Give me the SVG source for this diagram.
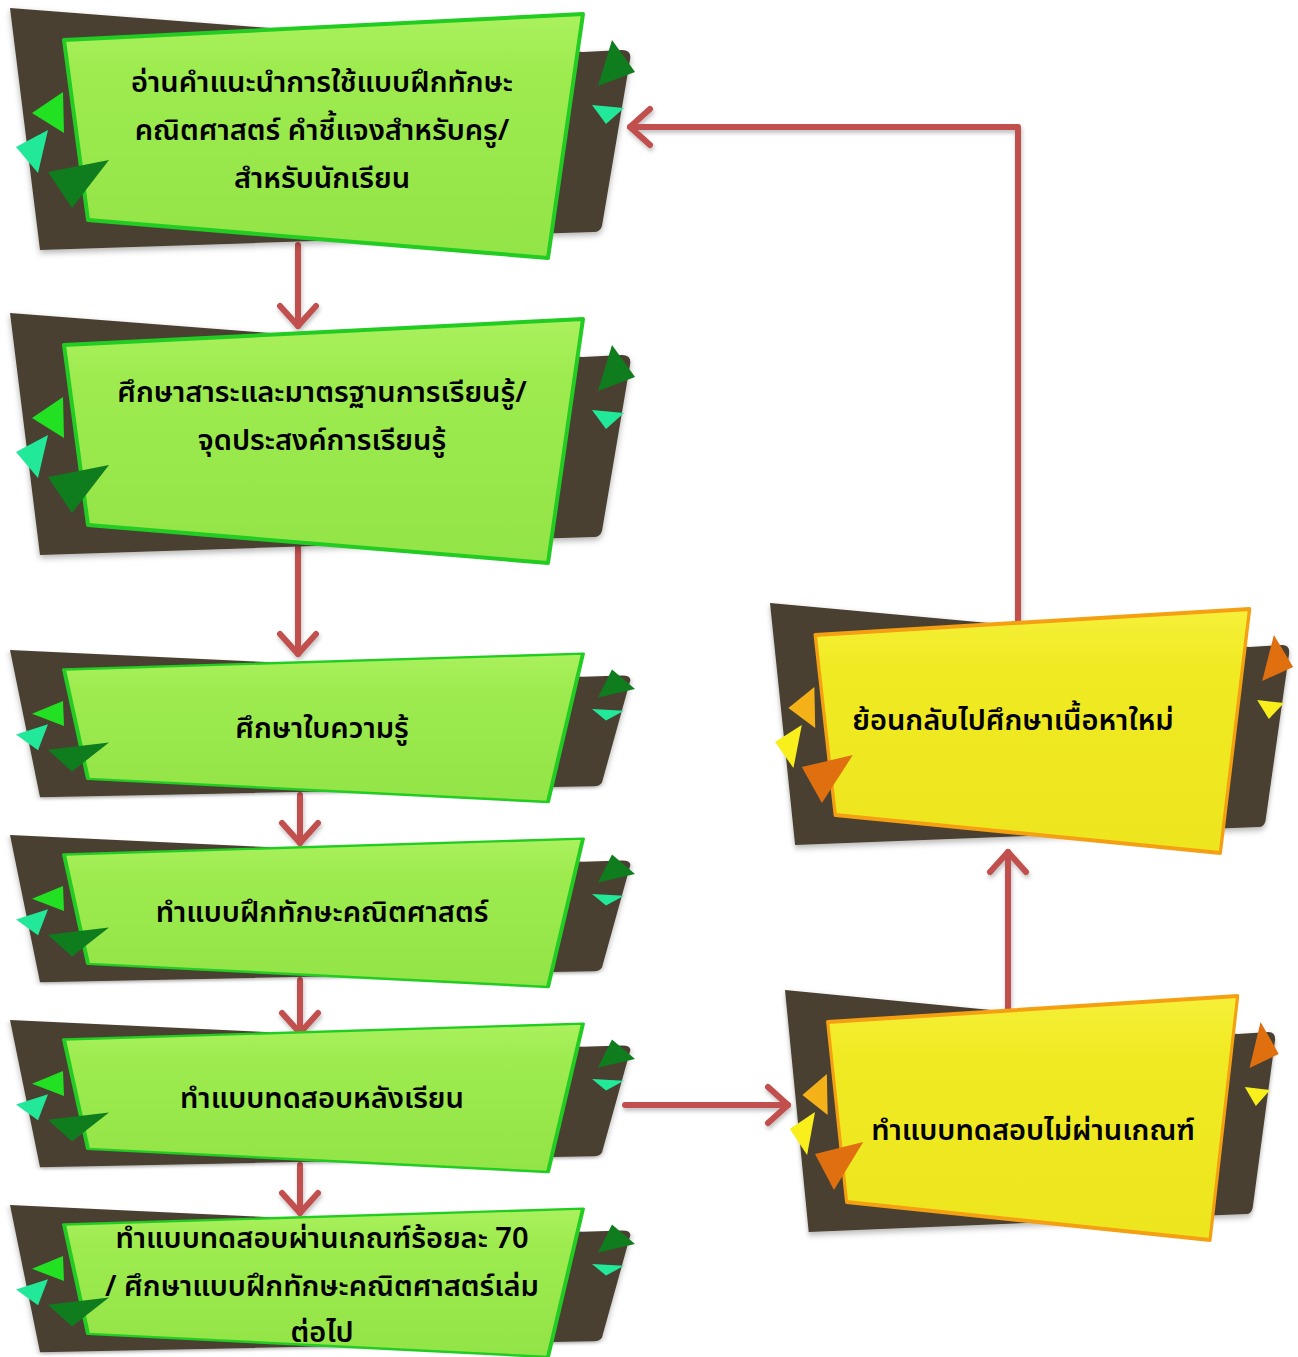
<svg xmlns="http://www.w3.org/2000/svg" xmlns:xlink="http://www.w3.org/1999/xlink" width="1298" height="1357" viewBox="0 0 1298 1357">
  <defs>
    <style>
      .back { fill: #4a4131; }
      .panel-g, .panel-y { stroke-width: 4; stroke-linejoin: round; vector-effect: non-scaling-stroke; }
      .panel-g { fill: url(#gFill); stroke: #22cc22; }
      .panel-y { fill: url(#yFill); stroke: #f5a012; }
      .g1 { fill: #22e022; } .g2 { fill: #22e89a; } .g3 { fill: #0f7d1e; }
      .y1 { fill: #f5b218; } .y2 { fill: #f8ef1c; } .y3 { fill: #e06f10; }
      text { font-family: "Noto Sans Thai", "Noto Sans", "DejaVu Sans", sans-serif; font-size: 29px; font-weight: 600; fill: #000; text-anchor: middle; }
      .link { fill: none; stroke: #c0504d; stroke-width: 6; stroke-linecap: round; stroke-linejoin: round; }
    </style>
    <linearGradient id="gFill" x1="0" y1="0" x2="0" y2="1">
      <stop offset="0" stop-color="#abf15e"/>
      <stop offset="0.25" stop-color="#9deb4f"/>
      <stop offset="1" stop-color="#93e447"/>
    </linearGradient>
    <linearGradient id="yFill" x1="0" y1="0" x2="0" y2="1">
      <stop offset="0" stop-color="#f6f03a"/>
      <stop offset="0.25" stop-color="#f0ea22"/>
      <stop offset="1" stop-color="#ede61e"/>
    </linearGradient>
    <filter id="soft" x="-10%" y="-10%" width="120%" height="125%">
      <feDropShadow dx="0" dy="3" stdDeviation="3" flood-color="#000" flood-opacity="0.3"/>
    </filter>
    <filter id="lineShadow" x="-20%" y="-20%" width="140%" height="140%">
      <feDropShadow dx="1" dy="3" stdDeviation="2" flood-color="#000" flood-opacity="0.25"/>
    </filter>
    <marker id="chev" markerUnits="userSpaceOnUse" viewBox="-26 -22 30 44" refX="0" refY="0" markerWidth="30" markerHeight="44" orient="auto" overflow="visible">
      <path d="M-20,-18 L0,0 L-20,18" fill="none" stroke="#c0504d" stroke-width="6" stroke-linecap="round" stroke-linejoin="round"/>
    </marker>
    <!-- dark backing plate shared by every banner, 625 x 250 in local units -->
    <path id="plate" class="back" filter="url(#soft)" d="M0,0 L573,44 L612,42 Q622,42 620,52 L592,218 Q590,224 584,224 L30,242 Z"/>
    <path id="panel" d="M54,32 L573,6 L538,250 L78,212 Z"/>
    <!-- green banner -->
    <g id="frameG">
      <use xlink:href="#plate"/>
      <polygon class="g3" points="602,32 625,64 588,78"/>
      <polygon class="g2" points="582,97 614,100 596,116"/>
      <use xlink:href="#panel" class="panel-g"/>
      <polygon class="g1" points="22,105 53,84 54,125"/>
      <polygon class="g2" points="6,139 38,122 28,165"/>
      <polygon class="g3" points="38,164 99,152 62,200"/>
    </g>
    <!-- yellow banner -->
    <g id="frameY">
      <use xlink:href="#plate"/>
      <polygon class="y3" points="602,32 625,64 588,78"/>
      <polygon class="y2" points="582,97 614,100 596,116"/>
      <use xlink:href="#panel" class="panel-y"/>
      <polygon class="y1" points="22,105 53,84 54,125"/>
      <polygon class="y2" points="6,139 38,122 28,165"/>
      <polygon class="y3" points="38,164 99,152 62,200"/>
    </g>
  </defs>

  <g id="connectors" filter="url(#lineShadow)">
    <path class="link" d="M298,245 V326" marker-end="url(#chev)"/>
    <path class="link" d="M298,547 V654" marker-end="url(#chev)"/>
    <path class="link" d="M300,795 V843" marker-end="url(#chev)"/>
    <path class="link" d="M300,980 V1033" marker-end="url(#chev)"/>
    <path class="link" d="M300,1165 V1213" marker-end="url(#chev)"/>
    <path class="link" d="M625,1105 H788" marker-end="url(#chev)"/>
    <path class="link" d="M1008,1010 V852" marker-end="url(#chev)"/>
    <path class="link" d="M1018,620 V127 H630" marker-end="url(#chev)"/>
  </g>

  <g id="node-read-guide">
    <use xlink:href="#frameG" transform="translate(10,8)"/>
    <text x="322" y="92">อ่านคำแนะนำการใช้แบบฝึกทักษะ</text>
    <text x="322" y="140">คณิตศาสตร์ คำชี้แจงสำหรับครู/</text>
    <text x="322" y="188">สำหรับนักเรียน</text>
  </g>

  <g id="node-standards">
    <use xlink:href="#frameG" transform="translate(10,313)"/>
    <text x="322" y="402">ศึกษาสาระและมาตรฐานการเรียนรู้/</text>
    <text x="322" y="450">จุดประสงค์การเรียนรู้</text>
  </g>

  <g id="node-knowledge-sheet">
    <use xlink:href="#frameG" transform="translate(10,650) scale(1,0.608)"/>
    <text x="322" y="738">ศึกษาใบความรู้</text>
  </g>

  <g id="node-exercises">
    <use xlink:href="#frameG" transform="translate(10,835) scale(1,0.608)"/>
    <text x="322" y="922">ทำแบบฝึกทักษะคณิตศาสตร์</text>
  </g>

  <g id="node-posttest">
    <use xlink:href="#frameG" transform="translate(10,1020) scale(1,0.608)"/>
    <text x="322" y="1108">ทำแบบทดสอบหลังเรียน</text>
  </g>

  <g id="node-passed">
    <use xlink:href="#frameG" transform="translate(10,1205) scale(1,0.608)"/>
    <text x="322" y="1248">ทำแบบทดสอบผ่านเกณฑ์ร้อยละ 70</text>
    <text x="322" y="1296">/ ศึกษาแบบฝึกทักษะคณิตศาสตร์เล่ม</text>
    <text x="322" y="1342">ต่อไป</text>
  </g>

  <g id="node-review">
    <use xlink:href="#frameY" transform="translate(770,603) scale(0.837,1)"/>
    <text x="1013" y="730">ย้อนกลับไปศึกษาเนื้อหาใหม่</text>
  </g>

  <g id="node-failed">
    <use xlink:href="#frameY" transform="translate(785,990) scale(0.79,1)"/>
    <text x="1033" y="1140">ทำแบบทดสอบไม่ผ่านเกณฑ์</text>
  </g>
</svg>
